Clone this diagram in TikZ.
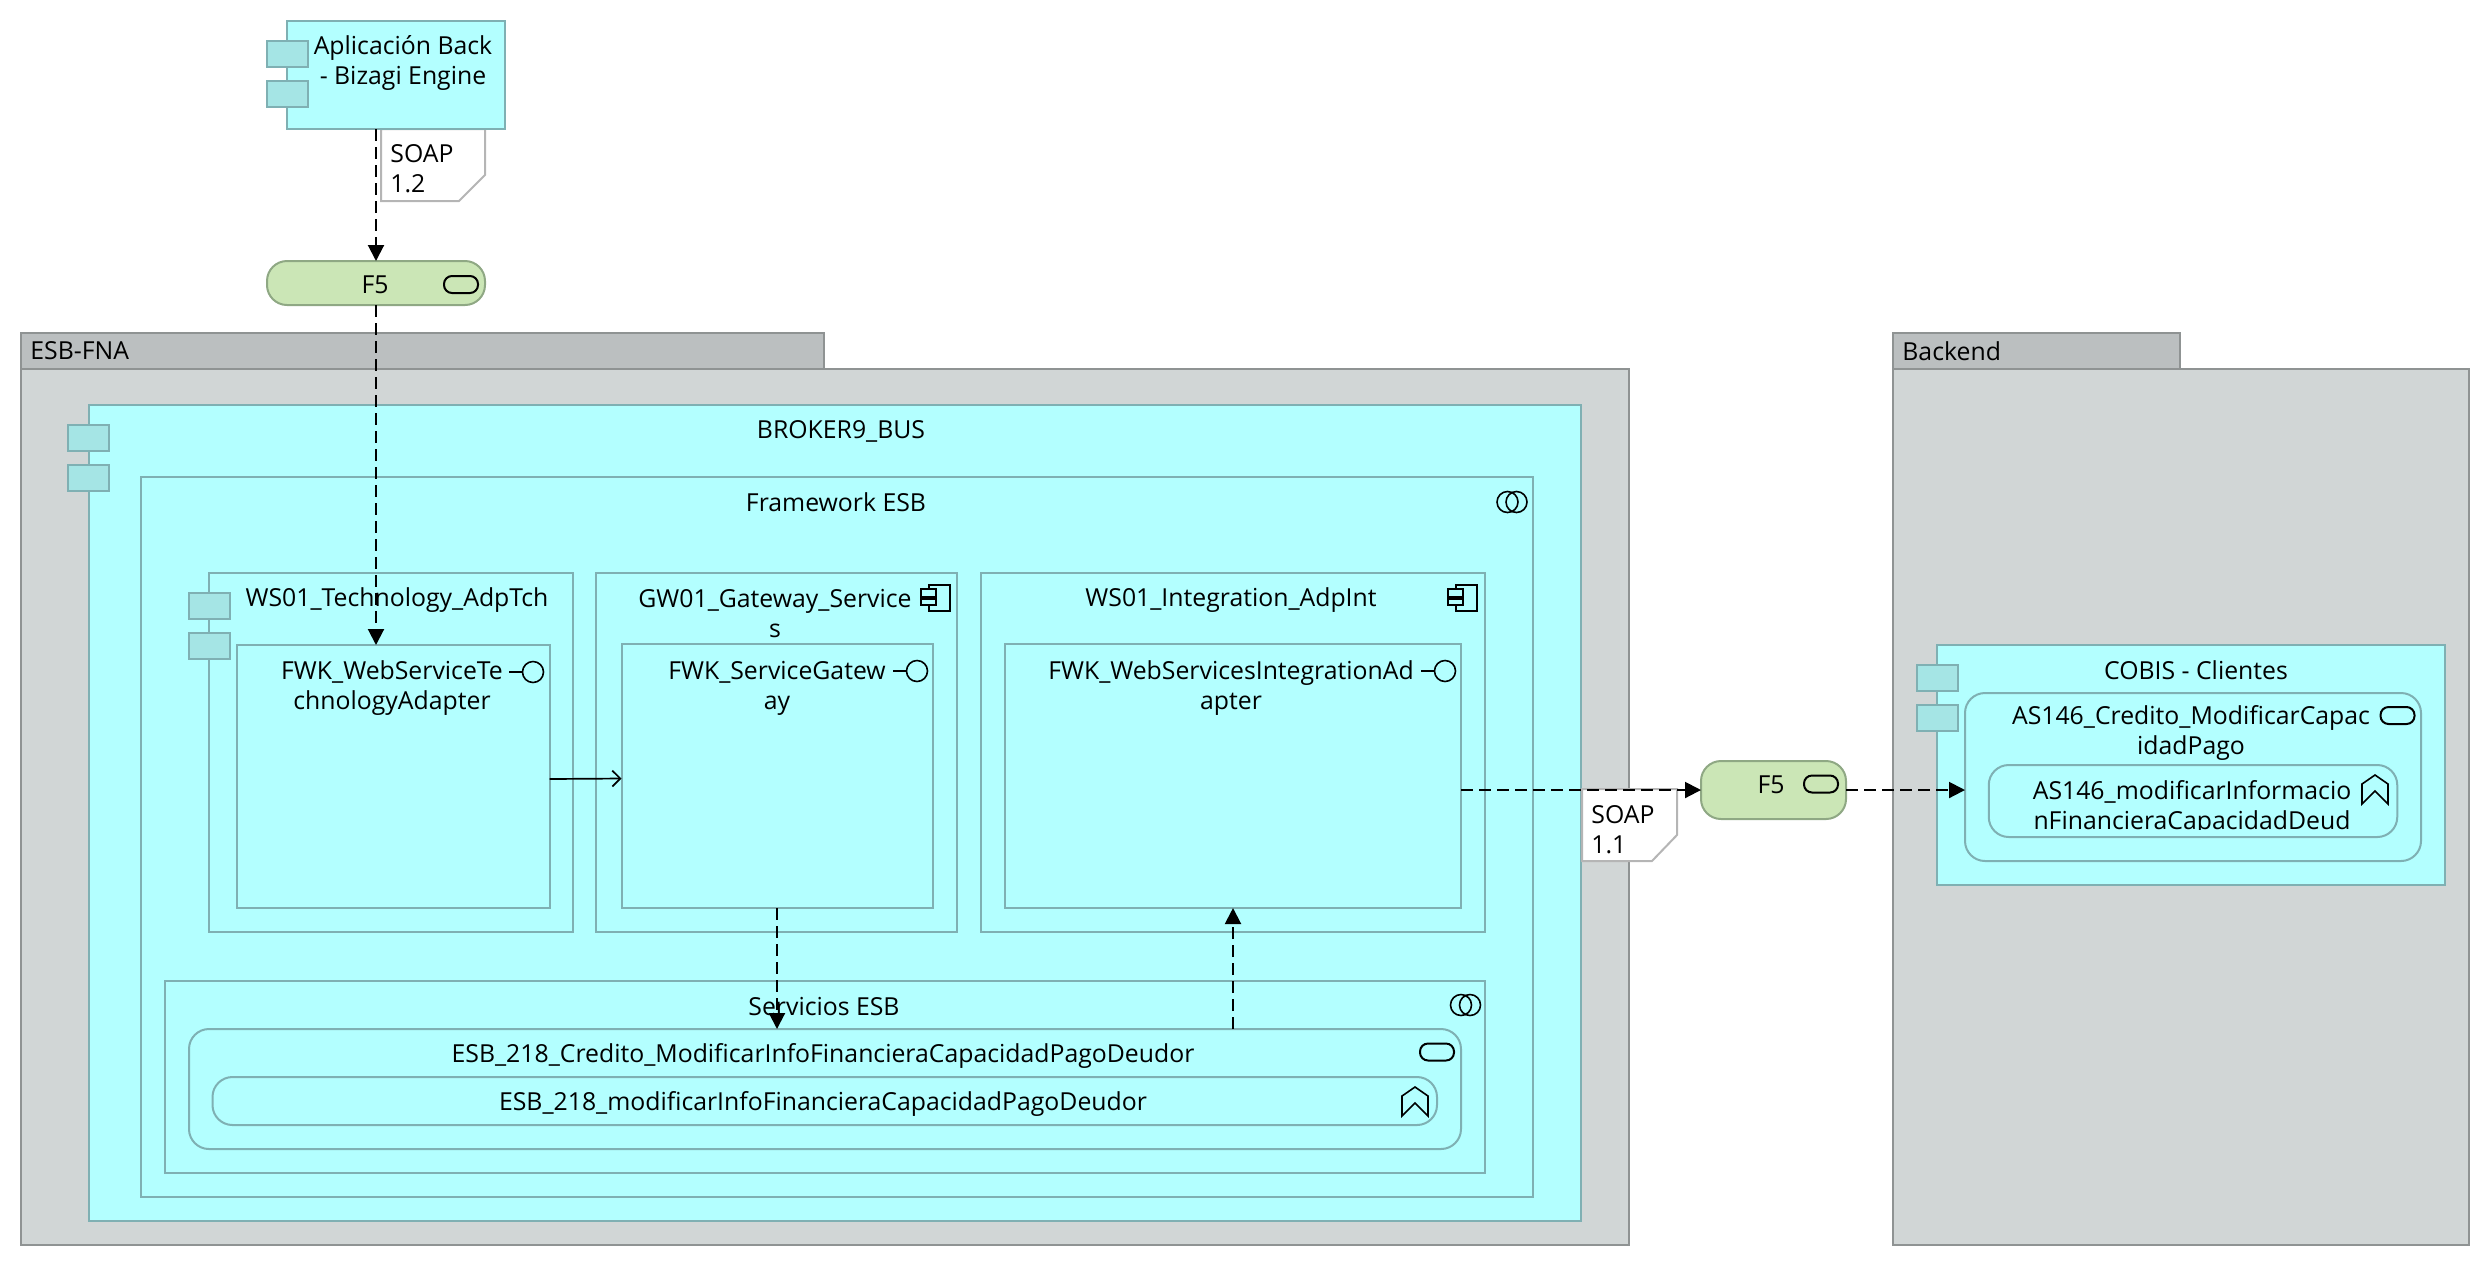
\documentclass[tikz,border=0pt]{standalone}
\usepackage{fontspec}
\setmainfont{Open Sans}
\usepackage{tikz}
\usetikzlibrary{arrows.meta}
\definecolor{appfill}{HTML}{B3FFFF}
\definecolor{appline}{HTML}{7FB0B3}
\definecolor{tabfill}{HTML}{A5E5E5}
\definecolor{groupfill}{HTML}{D1D6D6}
\definecolor{grouptab}{HTML}{BBBFC0}
\definecolor{groupline}{HTML}{8F9393}
\definecolor{techfill}{HTML}{CBE6B6}
\definecolor{techline}{HTML}{8FA884}
\definecolor{noteline}{HTML}{B5B5B5}
\tikzset{
  sized/.style 2 args={minimum width=#1*0.5pt,minimum height=#2*0.5pt,inner sep=0pt,outer sep=0pt},
  groupbox/.style={draw=groupline,fill=groupfill,line width=1pt},
  grouphead/.style={draw=groupline,fill=grouptab,line width=1pt},
  appbox/.style={draw=appline,fill=appfill,line width=1pt},
  svcbox/.style={draw=appline,fill=appfill,line width=1pt,rounded corners=10pt},
  techbox/.style={draw=techline,fill=techfill,line width=1pt,rounded corners=10pt},
  tabbox/.style={draw=appline,fill=tabfill,line width=1pt,sized={41}{26}},
  pilltag/.style={draw=black,line width=1pt,rounded corners=4pt,sized={34}{17}},
  notebox/.style={draw=noteline,fill=white,line width=1pt},
  txt/.style={font=\fontsize{12.4}{15}\selectfont,inner sep=0pt,text=black,align=center},
  flow/.style={line width=1pt,dash pattern=on 6pt off 3pt,-{Triangle[length=8pt,width=8pt]}},
  call/.style={line width=0.85pt,-{Straight Barb[length=4pt,width=8pt]}},
  ifacemark/.pic={\draw[line width=0.8pt] (-24,0) -- (-10.5,0); \draw[line width=0.8pt] (0,0) circle (5.25pt);},
  collabmark/.pic={\draw[line width=0.8pt] (-4.5,0) circle (5.25pt); \draw[line width=0.8pt] (4.5,0) circle (5.25pt);},
  compmark/.pic={\draw[line width=0.8pt] (-21,0) rectangle (0,26);
    \draw[line width=0.8pt,fill=appfill] (-29,4) rectangle (-14,12);
    \draw[line width=0.8pt,fill=appfill] (-29,14) rectangle (-14,20);},
  fnmark/.pic={\draw[line width=0.8pt] (0,0) -- (13,9) -- (13,29) -- (0,16) -- (-13,29) -- (-13,9) -- cycle;},
}
\begin{document}
\begin{tikzpicture}[x=0.5pt,y=-0.5pt]
\useasboundingbox (0,0) rectangle (2490,1266);

\node[groupbox,sized={1608}{876}] (esbbody) at (824.8,807) {};
\node[grouphead,sized={803.4}{36}] (esbhead) at (422.3,351) {};
\node[txt,anchor=west] (esbname) at (30,351) {ESB-FNA};
\node[groupbox,sized={576}{876}] (backbody) at (2181,807) {};
\node[grouphead,sized={287}{36}] (backhead) at (2036.5,351) {};
\node[txt,anchor=west] (backname) at (1902,351) {Backend};

\draw[notebox] (381,129) -- (485,129) -- (485,175) -- (459,201) -- (381,201) -- cycle;
\node[txt,anchor=west,align=left] (soapa) at (390,169) {SOAP\\1.2};

\node[appbox,sized={218}{108}] (app) at (396,75) {};
\node[tabbox] (apptaba) at (287,54) {};
\node[tabbox] (apptabb) [below of=apptaba,node distance=20pt] {};
\node[txt] (appname) at (403,63) {Aplicación Back\\- Bizagi Engine};

\node[techbox,sized={218}{44}] (f5a) at (376,283) {};
\node[txt] (f5aname) at (375,285) {F5};
\node[pilltag] (f5atag) at (461,284.5) {};

\node[appbox,sized={1492}{816}] (broker) at (835,813) {};
\node[tabbox] (brokertaba) at (88.5,438) {};
\node[tabbox] (brokertabb) [below of=brokertaba,node distance=20pt] {};
\node[txt] (brokername) at (841,431) {BROKER9\_BUS};

\node[appbox,sized={1392}{720}] (frame) at (837,837) {};
\node[txt] (framename) at (836,502) {Framework ESB};
\pic (framemark) at (1512,502) {collabmark};

\node[appbox,sized={364.5}{359}] (wstech) at (390.75,752.5) {};
\node[tabbox] (wstechtaba) at (209,606) {};
\node[tabbox] (wstechtabb) [below of=wstechtaba,node distance=20pt] {};
\node[txt] (wstechname) at (397,600) {WS01\_Technology\_AdpTch};
\node[appbox,sized={313}{263}] (fwktech) at (393,776.5) {};
\node[txt] (fwktechname) at (392,688) {FWK\_WebServiceTe\\chnologyAdapter};
\pic (fwktechmark) at (533,672) {ifacemark};

\node[appbox,sized={361}{359}] (wsgate) [right of=wstech,node distance=193.1pt] {};
\node[txt] (wsgatename) at (775,614) {GW01\_Gateway\_Service\\s};
\pic (wsgatemark) at (950,585) {compmark};
\node[appbox,sized={311}{264}] (fwkgate) at (777,776) {};
\node[txt] (fwkgatename) at (777,688) {FWK\_ServiceGatew\\ay};
\pic (fwkgatemark) at (917,671) {ifacemark};

\node[appbox,sized={504.5}{359}] (wsint) [right of=wsgate,node distance=227.9pt] {};
\node[txt] (wsintname) at (1231,600) {WS01\_Integration\_AdpInt};
\pic (wsintmark) at (1477,585) {compmark};
\node[appbox,sized={456}{264}] (fwkint) at (1233,776) {};
\node[txt] (fwkintname) at (1231,688) {FWK\_WebServicesIntegrationAd\\apter};
\pic (fwkintmark) at (1445,671) {ifacemark};

\node[appbox,sized={1320}{192}] (servesb) at (825,1077) {};
\node[txt] (servesbname) at (824,1006) {Servicios ESB};
\pic (servesbmark) at (1465.5,1005) {collabmark};
\node[svcbox,sized={1272}{120}] (esbcred) at (825,1089) {};
\node[txt] (esbcredname) at (823,1056) {ESB\_218\_Credito\_ModificarInfoFinancieraCapacidadPagoDeudor};
\node[pilltag] (esbcredtag) at (1437,1052) {};
\node[svcbox,sized={1224.5}{48}] (esbop) at (824.75,1101) {};
\node[txt] (esbopname) at (823,1104) {ESB\_218\_modificarInfoFinancieraCapacidadPagoDeudor};
\pic (esbopmark) at (1415,1087) {fnmark};

\draw[notebox] (1582,789) -- (1677,789) -- (1677,835) -- (1652,861) -- (1582,861) -- cycle;
\node[txt,anchor=west,align=left] (soapb) at (1591,830) {SOAP\\1.1};

\node[techbox,sized={145}{58}] (f5b) at (1773.5,790) {};
\node[txt] (f5bname) at (1771,785) {F5};
\node[pilltag] (f5btag) at (1821,784) {};

\node[appbox,sized={508}{240}] (cobis) at (2191,765) {};
\node[tabbox] (cobistaba) at (1937,677.5) {};
\node[tabbox] (cobistabb) [below of=cobistaba,node distance=20pt] {};
\node[txt] (cobisname) at (2196,670) {COBIS - Clientes};
\node[svcbox,sized={456}{168}] (ascred) at (2193,777) {};
\node[txt] (ascredname) at (2191,733) {AS146\_Credito\_ModificarCapac\\idadPago};
\node[pilltag] (ascredtag) at (2397.5,715.5) {};
\node[svcbox,sized={408.5}{72}] (asop) at (2193,801) {};
\begin{scope}
\clip (1989,765) rectangle (2398,829);
\node[txt] (asopname) at (2192,808) {AS146\_modificarInformacio\\nFinancieraCapacidadDeud};
\end{scope}
\pic (asopmark) at (2375,775) {fnmark};

\draw[flow] (f5a |- app.south) -- (f5a.north);
\draw[flow] (f5a.south) -- (f5a.south |- fwktech.north);
\draw[call] ([yshift=-1.25pt]fwktech.east) -- ([yshift=-1.25pt]fwkgate.west);
\draw[flow] (fwkgate.south) -- (fwkgate.south |- esbcred.north);
\draw[flow] (fwkint.south |- esbcred.north) -- (fwkint.south);
\draw[flow] (fwkint.east |- f5b.west) -- (f5b.west);
\draw[flow] (f5b.east) -- (f5b.east -| ascred.west);
\end{tikzpicture}
\end{document}
